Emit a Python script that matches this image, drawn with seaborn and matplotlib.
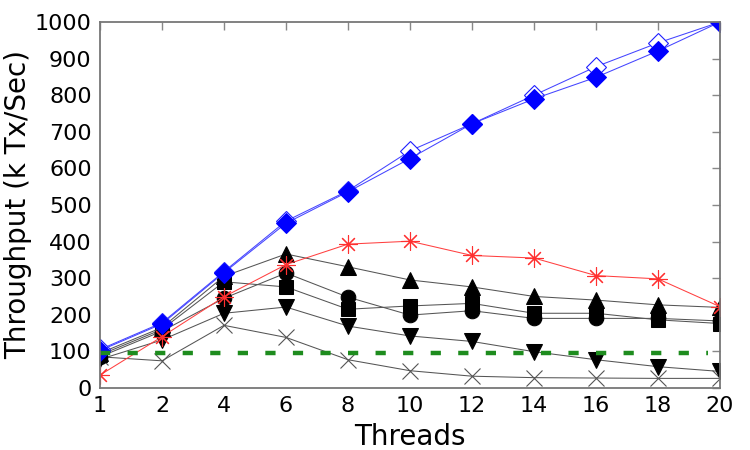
import matplotlib
matplotlib.use("Agg")
import matplotlib.pyplot as plt
import seaborn as sns
import pandas as pd

threads = ["1", "2", "4", "6", "8", "10", "12", "14", "16", "18", "20"]
blue_open = [105, 178, 318, 456, 539, 648, 722, 800, 878, 943, 1000]
blue_filled = [102, 175, 315, 450, 536, 627, 722, 790, 849, 921, 1000]
red_star = [35, 140, 249, 337, 393, 401, 362, 355, 307, 298, 222]
tri_up = [95, 165, 305, 366, 331, 295, 276, 250, 240, 227, 220]
square = [90, 160, 290, 276, 215, 224, 231, 204, 204, 186, 176]
circle = [85, 155, 245, 314, 248, 199, 211, 190, 190, 190, 183]
tri_down = [78, 131, 204, 221, 169, 142, 127, 99, 77, 58, 45]
cross = [85, 74, 171, 138, 77, 47, 32, 28, 27, 26, 26]
baseline = 95

sns.set_theme(style="white")
plt.rcParams["font.family"] = ["DejaVu Sans"]

fig = plt.figure(figsize=(7.5, 4.5), dpi=100)
ax = fig.add_axes([0.1333, 0.138, 0.8267, 0.813])

pos = list(range(len(threads)))

series = [
    (cross, dict(color="#555555", marker="x", markersize=11, markeredgewidth=0.8,
                 markerfacecolor="none", markeredgecolor="#555555")),
    (tri_down, dict(color="#555555", marker="v", markersize=11, markerfacecolor="black",
                    markeredgecolor="black")),
    (circle, dict(color="#555555", marker="o", markersize=10.5, markerfacecolor="black",
                  markeredgecolor="black")),
    (square, dict(color="#555555", marker="s", markersize=9.5, markerfacecolor="black",
                  markeredgecolor="black")),
    (tri_up, dict(color="#555555", marker="^", markersize=11, markerfacecolor="black",
                  markeredgecolor="black")),
    (red_star, dict(color="#ff4040", marker=(8, 2, 0), markersize=13, markeredgewidth=0.8,
                    markeredgecolor="#ff3030")),
    (blue_open, dict(color="#4444ff", marker="D", markersize=10, markerfacecolor="white",
                     markeredgecolor="#2020ff", markeredgewidth=0.8)),
    (blue_filled, dict(color="#4444ff", marker="D", markersize=10.5, markerfacecolor="#0000ff",
                       markeredgecolor="#0000ff")),
]

for vals, kw in series:
    df = pd.DataFrame({"x": pos, "y": vals})
    sns.lineplot(data=df, x="x", y="y", ax=ax, linewidth=0.75, **kw)

dfb = pd.DataFrame({"x": [pos[0], pos[-1] - 0.2], "y": [baseline, baseline]})
sns.lineplot(data=dfb, x="x", y="y", ax=ax, color="#1e8c1e", linewidth=3.2,
             linestyle=(0, (2.3, 3.9)))

ax.set_xlim(0, len(threads) - 1)
ax.set_ylim(0, 1000)
ax.set_xticks(pos)
ax.set_xticklabels(threads)
ax.set_yticks(range(0, 1001, 100))
ax.tick_params(axis="both", direction="in", length=6, width=1, color="#888888",
               labelsize=16, top=True, right=True, pad=6, labelcolor="black")
for s in ax.spines.values():
    s.set_visible(True)
    s.set_color("#777777")
    s.set_linewidth(1.3)
ax.set_xlabel("Threads", fontsize=20, labelpad=5, color="black")
ax.set_ylabel("Throughput (k Tx/Sec)", fontsize=20, labelpad=2, color="black")
ax.grid(False)

fig.savefig("out.png", dpi=100)
